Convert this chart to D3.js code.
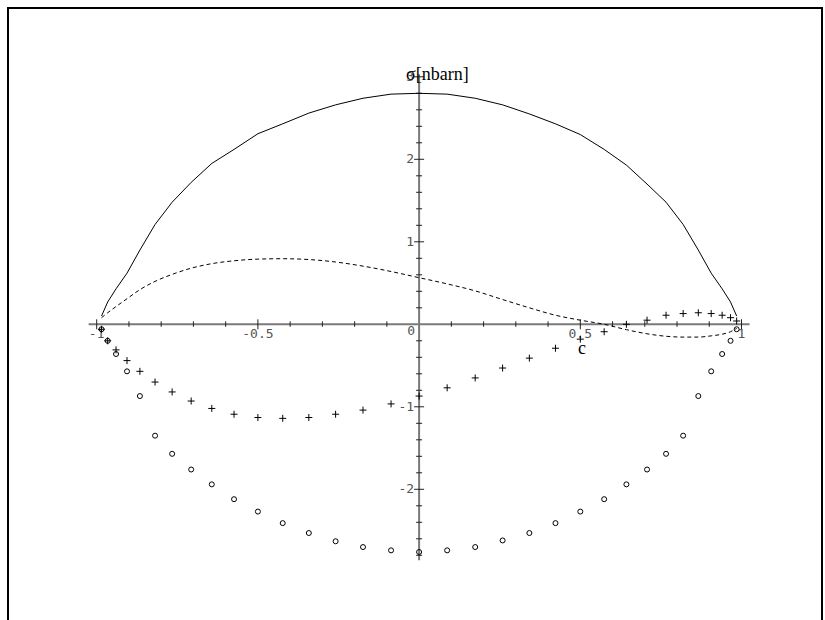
<!DOCTYPE html>
<html>
<head>
<meta charset="utf-8">
<script src="https://cdn.jsdelivr.net/npm/d3@7"></script>
<style>
	html, body {margin: 0; padding: 0; background: #fff;}
	svg {display: block;}
	.tick-label {font-family: "DejaVu Sans Mono", monospace; font-size: 13px; fill: #555;}
	.axis-title {font-family: "Liberation Serif", "Times New Roman", serif; font-size: 18px; fill: #000;}
</style>
</head>
<body>
<svg id="chart" width="825" height="620"></svg>
<script>
// c = cos(theta), theta from 170 deg down to 10 deg in 5 deg steps
const cosTheta = [-0.985, -0.966, -0.940, -0.906, -0.866, -0.819, -0.766, -0.707, -0.643, -0.574, -0.500,
	-0.423, -0.342, -0.259, -0.174, -0.087, 0, 0.087, 0.174, 0.259, 0.342, 0.423, 0.500, 0.574, 0.643,
	0.707, 0.766, 0.819, 0.866, 0.906, 0.940, 0.966, 0.985];

const sigmaTotal = [0.10, 0.27, 0.43, 0.62, 0.90, 1.21, 1.48, 1.72, 1.95, 2.12, 2.31, 2.43, 2.56, 2.66,
	2.74, 2.79, 2.80, 2.79, 2.74, 2.66, 2.55, 2.43, 2.30, 2.12, 1.93, 1.70, 1.48, 1.21, 0.90, 0.62,
	0.43, 0.27, 0.10];

const sigmaDashed = [0.08, 0.14, 0.215, 0.31, 0.42, 0.52, 0.605, 0.68, 0.735, 0.77, 0.79, 0.795, 0.785,
	0.755, 0.705, 0.64, 0.565, 0.49, 0.405, 0.30, 0.20, 0.11, 0.05, 0.00, -0.065, -0.115, -0.145, -0.155,
	-0.155, -0.14, -0.12, -0.09, -0.05];

const sigmaPlus = [-0.06, -0.20, -0.31, -0.44, -0.57, -0.70, -0.82, -0.93, -1.02, -1.09, -1.13, -1.14,
	-1.13, -1.09, -1.04, -0.965, -0.87, -0.77, -0.65, -0.53, -0.41, -0.29, -0.18, -0.09, 0.00, 0.05,
	0.11, 0.13, 0.14, 0.13, 0.11, 0.08, 0.04];

const sigmaCircle = [-0.06, -0.20, -0.36, -0.57, -0.87, -1.35, -1.57, -1.76, -1.94, -2.12, -2.27, -2.41,
	-2.53, -2.63, -2.70, -2.74, -2.76, -2.74, -2.70, -2.62, -2.53, -2.41, -2.27, -2.12, -1.94, -1.76,
	-1.57, -1.35, -0.87, -0.57, -0.36, -0.20, -0.06];

const xMajorTicks = [-1, -0.5, 0.5, 1];
const xMajorLabels = ["-1", "-0.5", "0.5", "1"];
const xMinorTicks = [-0.9, -0.8, -0.7, -0.6, -0.4, -0.3, -0.2, -0.1, 0.1, 0.2, 0.3, 0.4, 0.6, 0.7, 0.8, 0.9];
const yMajorTicks = [-2, -1, 1, 2, 3];
const yMinorTicks = [-2.8, -2.6, -2.4, -2.2, -1.8, -1.6, -1.4, -1.2, -0.8, -0.6, -0.4, -0.2,
	0.2, 0.4, 0.6, 0.8, 1.2, 1.4, 1.6, 1.8, 2.2, 2.4, 2.6, 2.8];

const svg = d3.select("#chart");

// outer frame
svg.append("rect")
.attr("x", 8)
.attr("y", 8)
.attr("width", 814)
.attr("height", 640)
.attr("fill", "none")
.attr("stroke", "#000")
.attr("stroke-width", 2);

const x = d3.scaleLinear().domain([-1, 1]).range([96.7, 741.5]);
const y = d3.scaleLinear().domain([-2, 2]).range([489.3, 159.3]);

const axisColor = "#7a7a7a";
const tickColor = "#222";

// axis lines
svg.append("line")
.attr("x1", x(-1.025))
.attr("x2", x(1.025))
.attr("y1", y(0))
.attr("y2", y(0))
.attr("stroke", axisColor)
.attr("stroke-width", 2);

svg.append("line")
.attr("x1", x(0))
.attr("x2", x(0))
.attr("y1", y(3.03))
.attr("y2", y(-2.86))
.attr("stroke", axisColor)
.attr("stroke-width", 2);

// x ticks
const gx = svg.append("g");

gx.selectAll(".minor")
.data(xMinorTicks)
.enter()
.append("line")
.attr("x1", (d) => x(d))
.attr("x2", (d) => x(d))
.attr("y1", y(0) - 3)
.attr("y2", y(0) + 2.5)
.attr("stroke", tickColor);

gx.selectAll(".major")
.data(xMajorTicks)
.enter()
.append("line")
.attr("x1", (d) => x(d))
.attr("x2", (d) => x(d))
.attr("y1", y(0) - 5)
.attr("y2", y(0) + 5)
.attr("stroke", tickColor);

gx.selectAll("text")
.data(xMajorTicks)
.enter()
.append("text")
.attr("class", "tick-label")
.attr("x", (d) => x(d))
.attr("y", y(0) + 14)
.attr("text-anchor", "middle")
.text((d, i) => xMajorLabels[i]);

svg.append("text")
.attr("class", "tick-label")
.attr("x", x(0) - 4)
.attr("y", y(0) + 11)
.attr("text-anchor", "end")
.text("0");

// y ticks
const gy = svg.append("g");

gy.selectAll(".minor")
.data(yMinorTicks)
.enter()
.append("line")
.attr("x1", x(0) - 3)
.attr("x2", x(0) + 3)
.attr("y1", (d) => y(d))
.attr("y2", (d) => y(d))
.attr("stroke", tickColor);

gy.selectAll(".major")
.data(yMajorTicks)
.enter()
.append("line")
.attr("x1", x(0) - 5)
.attr("x2", x(0) + 5)
.attr("y1", (d) => y(d))
.attr("y2", (d) => y(d))
.attr("stroke", tickColor);

gy.selectAll("text")
.data(yMajorTicks)
.enter()
.append("text")
.attr("class", "tick-label")
.attr("x", x(0) - 5)
.attr("y", (d) => y(d) + 4)
.attr("text-anchor", "end")
.text((d) => d);

// axis titles
svg.append("text")
.attr("class", "axis-title")
.attr("x", 406)
.attr("y", 80)
.text("σ[nbarn]");

svg.append("text")
.attr("class", "axis-title")
.attr("x", 578)
.attr("y", 354)
.text("c");

// curves
const points = (values) => cosTheta.map((c, i) => [c, values[i]]);

const solidLine = d3.line()
.x((d) => x(d[0]))
.y((d) => y(d[1]));

svg.append("path")
.attr("d", solidLine(points(sigmaTotal)))
.attr("fill", "none")
.attr("stroke", "#000")
.attr("stroke-width", 1);

const dashedLine = d3.line()
.curve(d3.curveMonotoneX)
.x((d) => x(d[0]))
.y((d) => y(d[1]));

svg.append("path")
.attr("d", dashedLine(points(sigmaDashed)))
.attr("fill", "none")
.attr("stroke", "#000")
.attr("stroke-width", 1)
.attr("stroke-dasharray", "4,3");

// markers
const plusSize = 3.5;

svg.append("g")
.selectAll("path")
.data(points(sigmaPlus))
.enter()
.append("path")
.attr("d", (d) => {
	const px = x(d[0]);
	const py = y(d[1]);
	return `M${px - plusSize},${py}H${px + plusSize}M${px},${py - plusSize}V${py + plusSize}`;
})
.attr("stroke", "#000")
.attr("stroke-width", 1);

svg.append("g")
.selectAll("circle")
.data(points(sigmaCircle))
.enter()
.append("circle")
.attr("cx", (d) => x(d[0]))
.attr("cy", (d) => y(d[1]))
.attr("r", 2.5)
.attr("fill", "none")
.attr("stroke", "#000")
.attr("stroke-width", 1);
</script>
</body>
</html>
